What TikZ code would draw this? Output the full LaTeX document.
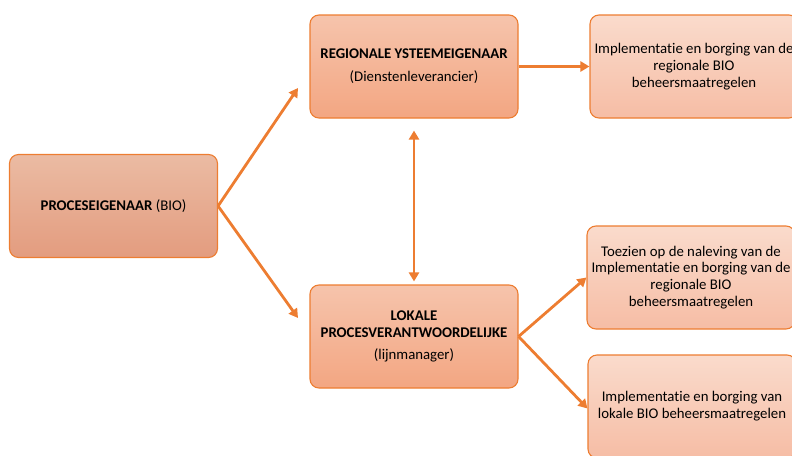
\documentclass[tikz,border=0pt]{standalone}
\usepackage{fontspec}
\setmainfont[Ligatures=CommonOff]{Carlito}
\usetikzlibrary{arrows.meta}
\definecolor{rand}{HTML}{ED7D31}
\definecolor{procboven}{RGB}{235,187,163}
\definecolor{proconder}{RGB}{227,156,127}
\definecolor{rolboven}{RGB}{246,196,172}
\definecolor{rolonder}{RGB}{243,166,130}
\definecolor{taakboven}{RGB}{250,219,204}
\definecolor{taakonder}{RGB}{246,189,165}

\begin{document}
\begin{tikzpicture}[x=1pt,y=-1pt,
  blok/.style={draw=rand, line width=1.1pt, rounded corners=9pt,
    minimum width=208pt, minimum height=103pt, align=center, inner sep=2pt,
    font=\fontsize{14.8}{16.8}\selectfont},
  procblok/.style={blok, top color=procboven, bottom color=proconder},
  rolblok/.style={blok, top color=rolboven, bottom color=rolonder},
  taakblok/.style={blok, top color=taakboven, bottom color=taakonder},
  pijl/.style={draw=rand, line width=2.8pt, -{Triangle[length=9pt,width=10pt]}}]
  \useasboundingbox (0,0) rectangle (792,455);
  \clip (0,0) rectangle (792,455);

  \node[procblok] (proc) at (113.5,206) {\textbf{PROCESEIGENAAR} (BIO)};
  \node[rolblok] (reg) at (414,66.5) {\textbf{REGIONALE YSTEEMEIGENAAR}\\[6pt](Dienstenleverancier)};
  \node[rolblok] (lok) at (414,336.5) {\textbf{LOKALE}\\\textbf{PROCESVERANTWOORDELIJKE}\\[6pt](lijnmanager)};

  \node[taakblok] (regimpl) at (694,66.5) {Implementatie en borging van de\\regionale BIO\\beheersmaatregelen};
  \node[taakblok] (toez) at (691,277.5) {Toezien op de naleving van de\\Implementatie en borging van de\\regionale BIO\\beheersmaatregelen};
  \node[taakblok] (lokimpl) at (692,406.5) {Implementatie en borging van\\lokale BIO beheersmaatregelen};

  % vrije eindpunten van de pijlen uit het procesblok
  \coordinate (naarreg) at (298,88);
  \coordinate (naarlok) at (298,318);

  \draw[pijl] (proc.east) -- (naarreg);
  \draw[pijl] (proc.east) -- (naarlok);
  \draw[pijl] (reg.east) -- (regimpl.west);
  \draw[pijl, {Triangle[length=9pt,width=10pt]}-{Triangle[length=9pt,width=10pt]}]
    ([yshift=-12pt]reg.south) -- ([yshift=3pt]lok.north);
  \draw[pijl] (lok.east) -- (toez.west);
  \draw[pijl] (lok.east) -- ([yshift=-2pt]lokimpl.west);
\end{tikzpicture}
\end{document}
